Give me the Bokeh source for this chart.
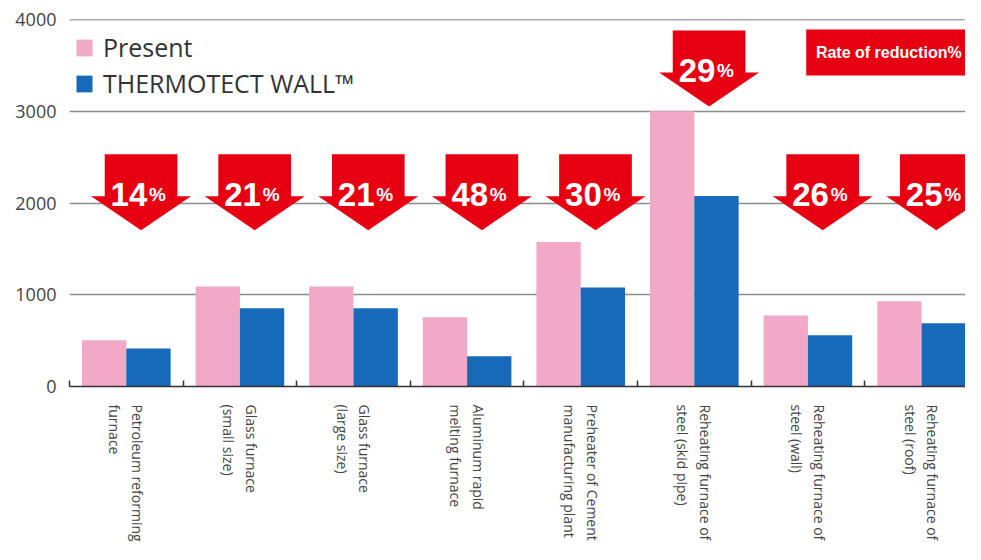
import math
from bokeh.plotting import figure
from bokeh.models import Range1d, FixedTicker, Span, Legend, LegendItem, ColumnDataSource
from bokeh.core.properties import value
from bokeh.embed import file_html
from bokeh.resources import INLINE

# ---- data ----
categories = [
    "Petroleum reforming\nfurnace",
    "Glass furnace\n(small size)",
    "Glass furnace\n(large size)",
    "Aluminum rapid\nmelting furnace",
    "Preheater of Cement\nmanufacturing plant",
    "Reheating furnace of\nsteel (skid pipe)",
    "Reheating furnace of\nsteel (wall)",
    "Reheating furnace of\nsteel (roof)",
]
present = [505, 1090, 1090, 755, 1575, 3000, 773, 928]
thermotect = [415, 852, 852, 331, 1079, 2075, 558, 690]
reduction = [14, 21, 21, 48, 30, 29, 26, 25]
y_ticks = [0, 1000, 2000, 3000, 4000]

PINK = "#F2A8C7"
BLUE = "#1769B9"
RED = "#E60012"
BOLDF = "Liberation Sans"

n = len(categories)
centers = [i + 0.5 for i in range(n)]

p = figure(width=965, height=544,
           x_range=Range1d(0, 7.887), y_range=Range1d(0, 4000),
           output_backend="svg", toolbar_location=None,
           min_border_left=69, min_border_right=0,
           min_border_top=19, min_border_bottom=157)
p.outline_line_color = None
p.background_fill_color = "white"

# grid
p.xgrid.visible = False
p.ygrid.ticker = FixedTicker(ticks=[1000, 2000, 3000])
p.ygrid.grid_line_color = "#8c8c8c"
p.ygrid.grid_line_width = 1.5
p.add_layout(Span(location=4000, dimension="width", line_color="#555555", line_width=1.5))

# bars
bw = 0.39
src = ColumnDataSource(dict(
    xp=[c - bw / 2 for c in centers],
    xb=[c + bw / 2 for c in centers],
    present=present, thermotect=thermotect,
))
r1 = p.vbar(x="xp", top="present", width=bw, bottom=0, source=src,
            fill_color=PINK, line_color=None)
r2 = p.vbar(x="xb", top="thermotect", width=bw, bottom=0, source=src,
            fill_color=BLUE, line_color=None)

# reduction arrows
off = 0.13
rect_hw, head_hw = 0.32, 0.44
rect_h, head_h = 457, 370
xs, ys, tx, ty = [], [], [], []
for c, pv in zip(centers, present):
    cx = c + off
    top = 3880 if pv > 2300 else 2531
    s = top - rect_h
    tip = s - head_h
    xs.append([cx - rect_hw, cx + rect_hw, cx + rect_hw, cx + head_hw, cx, cx - head_hw, cx - rect_hw])
    ys.append([top, top, s, s, tip, s, s])
    tx.append(cx)
    ty.append(top - 435)
p.patches(xs, ys, fill_color=RED, line_color=None)

tsrc = ColumnDataSource(dict(
    xn=[x + 0.055 for x in tx], xpc=[x + 0.07 for x in tx], y=ty,
    num=[str(r) for r in reduction], pct=["%"] * n,
))
p.text(x="xn", y="y", text="num", source=tsrc, text_font=value(BOLDF),
       text_font_style="bold", text_font_size="33px", text_color="white",
       text_align="right", text_baseline="alphabetic")
p.text(x="xpc", y="y", text="pct", source=tsrc, text_font=value(BOLDF),
       text_font_style="bold", text_font_size="19px", text_color="white",
       text_align="left", text_baseline="alphabetic")

# "Rate of reduction%" box
p.quad(left=[6.485], right=[8.5], bottom=[3391], top=[3891], fill_color=RED, line_color=None)
p.text(x=[6.57], y=[3641], text=["Rate of reduction%"], text_font=value(BOLDF),
       text_font_style="bold", text_font_size="16px", text_color="white",
       text_align="left", text_baseline="middle")

# axes
xa = p.xaxis[0]
xa.ticker = FixedTicker(ticks=centers, minor_ticks=list(range(n + 1)))
xa.major_label_overrides = {c: lab for c, lab in zip(centers, categories)}
xa.major_label_orientation = -math.pi / 2
xa.major_label_standoff = 12
xa.major_label_text_font = "Open Sans"
xa.major_label_text_font_size = "14px"
xa.major_label_text_color = "#444444"
xa.major_tick_line_color = None
xa.minor_tick_in = 6
xa.minor_tick_out = 0
xa.minor_tick_line_color = "#333333"
xa.minor_tick_line_width = 1.5
xa.axis_line_color = "#333333"
xa.axis_line_width = 1.5

ya = p.yaxis[0]
ya.ticker = FixedTicker(ticks=y_ticks)
ya.axis_line_color = None
ya.major_tick_line_color = None
ya.minor_tick_line_color = None
ya.major_tick_out = 0
ya.major_label_standoff = 13
ya.major_label_text_font = "Open Sans"
ya.major_label_text_font_size = "18px"
ya.major_label_text_color = "#444444"

# legend
legend = Legend(items=[LegendItem(label="Present", renderers=[r1]),
                       LegendItem(label="THERMOTECT WALL™", renderers=[r2])],
                location=(5, 286), padding=7, spacing=2, margin=0,
                glyph_width=20, glyph_height=21,
                label_text_font="Open Sans", label_text_font_size="25px",
                label_text_color="#333333", label_standoff=9,
                background_fill_alpha=0, border_line_color=None)
p.add_layout(legend)

open("out.html", "w").write(file_html(p, INLINE))
